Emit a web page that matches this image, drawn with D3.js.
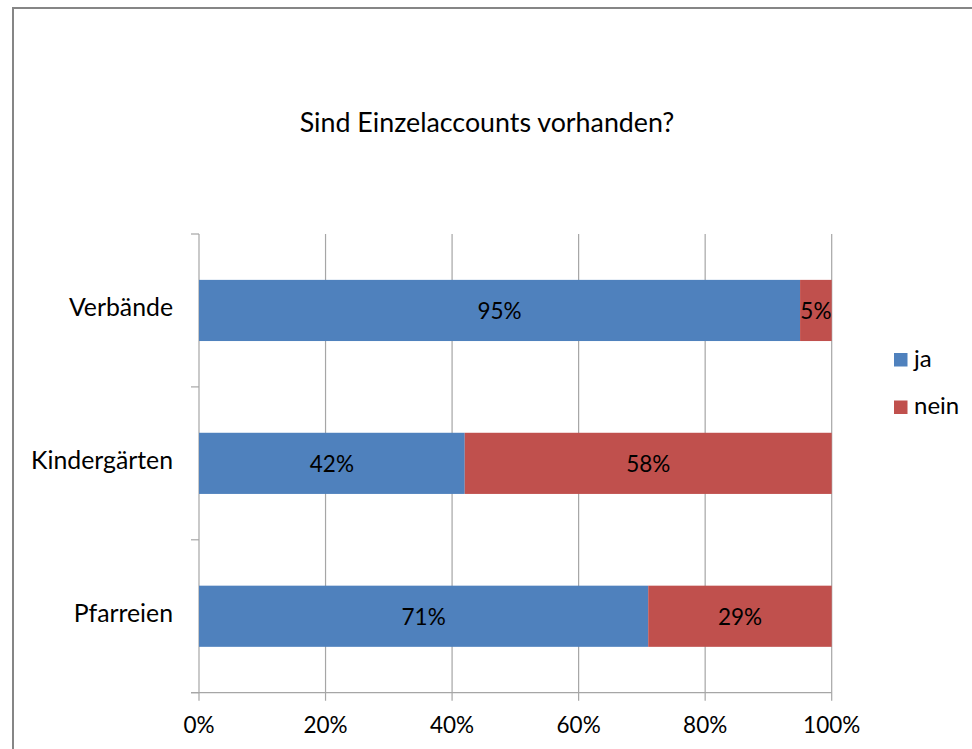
<!DOCTYPE html>
<html>
<head>
<meta charset="utf-8">
<script src="https://cdn.jsdelivr.net/npm/d3@7"></script>
<style>
  body { margin: 0; background: #fff; }
  svg { display: block; font-family: Lato, "Open Sans", sans-serif; }
</style>
</head>
<body>
<div id="chart"></div>
<script>
// Data
var title = "Sind Einzelaccounts vorhanden?";
var categories = ["Verbände", "Kindergärten", "Pfarreien"];
var seriesNames = ["ja", "nein"];
var jaValues = [95, 42, 71];
var neinValues = [5, 58, 29];
var xTicks = [0, 20, 40, 60, 80, 100];
var colors = ["#4F81BD", "#C0504D"];

var width = 972;
var height = 749;

var svg = d3.select("#chart")
	.append("svg")
	.attr("width", width)
	.attr("height", height);

// outer frame
svg.append("rect")
	.attr("x", 13)
	.attr("y", 8)
	.attr("width", width + 20)
	.attr("height", height + 20)
	.style("fill", "#fff")
	.style("stroke", "#868686")
	.style("stroke-width", 2);

var plot = { left: 199, right: 831.7, top: 234, bottom: 692.7 };

var x = d3.scaleLinear()
	.domain([0, 100])
	.range([plot.left, plot.right]);

var y = d3.scaleBand()
	.domain(categories)
	.range([plot.top, plot.bottom])
	.paddingInner(0.6)
	.paddingOuter(0.3);

// Title
svg.append("text")
	.attr("x", 487)
	.attr("y", 132)
	.attr("text-anchor", "middle")
	.attr("font-size", "26.8px")
	.style("fill", "#000")
	.text(title);

// vertical gridlines
svg.append("g")
	.selectAll("line")
	.data(xTicks)
	.enter()
	.append("line")
	.attr("x1", d => x(d))
	.attr("x2", d => x(d))
	.attr("y1", plot.top)
	.attr("y2", plot.bottom + 8)
	.style("stroke", "#a6a6a6")
	.style("stroke-width", 1.2);

// category boundary ticks on the y axis
var boundaries = d3.range(categories.length + 1).map(i => plot.top + i * y.step());
svg.append("g")
	.selectAll("line")
	.data(boundaries)
	.enter()
	.append("line")
	.attr("x1", plot.left - 8)
	.attr("x2", plot.left)
	.attr("y1", d => d)
	.attr("y2", d => d)
	.style("stroke", "#a6a6a6")
	.style("stroke-width", 1.2);

// horizontal axis line
svg.append("line")
	.attr("x1", plot.left - 8)
	.attr("x2", plot.right)
	.attr("y1", plot.bottom)
	.attr("y2", plot.bottom)
	.style("stroke", "#a6a6a6")
	.style("stroke-width", 1.2);

// x tick labels
svg.append("g")
	.selectAll("text")
	.data(xTicks)
	.enter()
	.append("text")
	.attr("x", d => x(d))
	.attr("y", 733)
	.attr("text-anchor", "middle")
	.attr("font-size", "22.5px")
	.style("fill", "#000")
	.text(d => d + "%");

// Stacked data
var rows = categories.map(function(c, i){
	return { cat: c, ja: jaValues[i], nein: neinValues[i] };
});
var stacked = d3.stack().keys(seriesNames)(rows);

var layers = svg.append("g")
	.selectAll("g")
	.data(stacked)
	.enter()
	.append("g")
	.style("fill", (d, i) => colors[i]);

layers.selectAll("rect")
	.data(d => d)
	.enter()
	.append("rect")
	.attr("x", d => x(d[0]))
	.attr("width", d => x(d[1]) - x(d[0]))
	.attr("y", d => y(d.data.cat))
	.attr("height", y.bandwidth());

layers.selectAll("text")
	.data(d => d)
	.enter()
	.append("text")
	.attr("x", d => (x(d[0]) + x(d[1])) / 2)
	.attr("y", d => y(d.data.cat) + y.bandwidth() / 2 + 8.5)
	.attr("text-anchor", "middle")
	.attr("font-size", "22.5px")
	.style("fill", "#000")
	.text(d => (d[1] - d[0]) + "%");

// category labels
svg.append("g")
	.selectAll("text")
	.data(categories)
	.enter()
	.append("text")
	.attr("x", 173)
	.attr("y", d => y(d) + y.bandwidth() / 2 + 6)
	.attr("text-anchor", "end")
	.attr("font-size", "24.8px")
	.style("fill", "#000")
	.text(d => d);

// Legend
var legend = svg.append("g")
	.attr("transform", "translate(894,353)");

legend.selectAll("rect")
	.data(seriesNames)
	.enter()
	.append("rect")
	.attr("x", 0)
	.attr("y", (d, i) => i * 47.5)
	.attr("width", 13.5)
	.attr("height", 13.5)
	.style("fill", (d, i) => colors[i]);

legend.selectAll("text")
	.data(seriesNames)
	.enter()
	.append("text")
	.attr("x", 20)
	.attr("y", (d, i) => i * 47.5 + 13.5)
	.attr("font-size", "24px")
	.style("fill", "#000")
	.text(d => d);
</script>
</body>
</html>
